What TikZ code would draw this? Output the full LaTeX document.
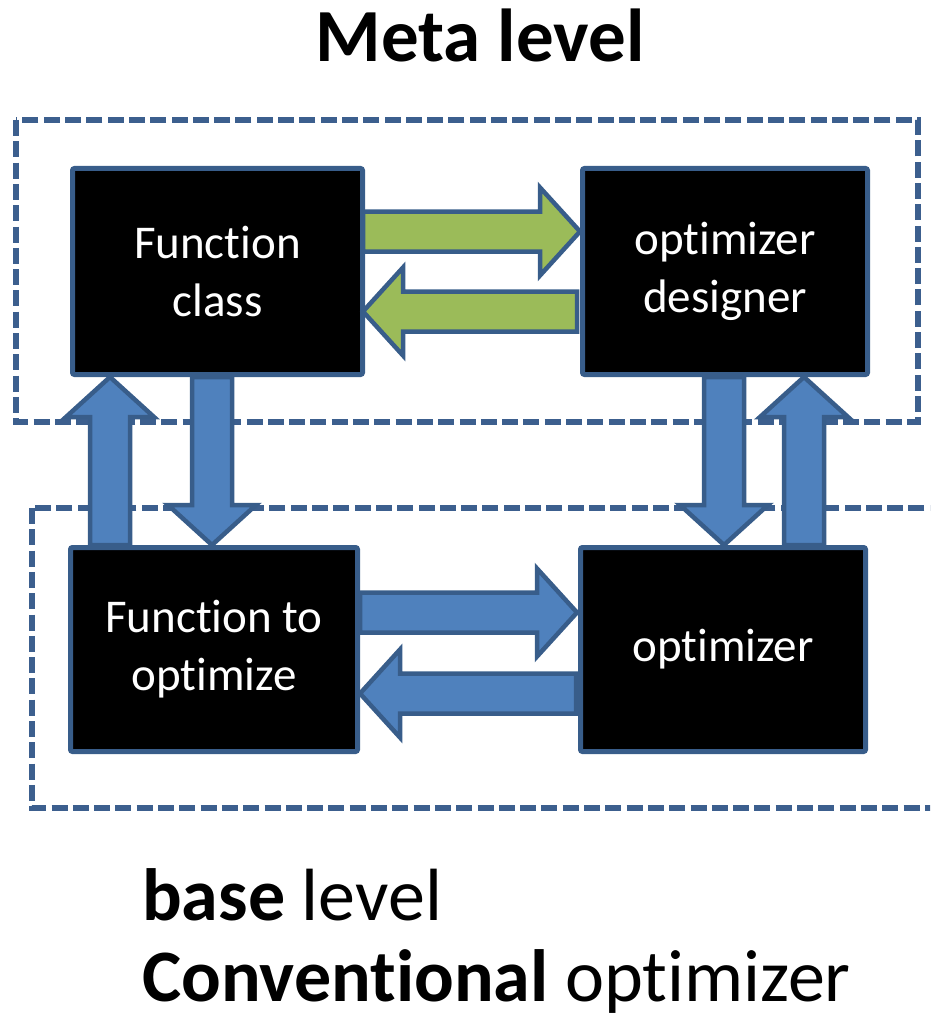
\documentclass[tikz,border=0pt]{standalone}
\usepackage{fontspec}
\setmainfont{Carlito}[Ligatures={NoCommon}]
\usetikzlibrary{calc}
\definecolor{edge}{HTML}{385D8A}
\definecolor{frameblue}{HTML}{3C5F8E}
\definecolor{bluefill}{HTML}{4F81BD}
\definecolor{greenfill}{HTML}{9BBB59}
\tikzset{
  blockbox/.style={draw=edge, line width=5pt, fill=black, rounded corners=2pt,
    text=white, font=\fontsize{47}{58}\selectfont, align=center, inner sep=0pt},
  levelframe/.style={draw=frameblue, line width=5.5pt, dash pattern=on 16pt off 5.3pt},
  bluearrow/.style={draw=edge, line width=4.5pt, fill=bluefill, line join=miter},
  greenarrow/.style={draw=edge, line width=4.5pt, fill=greenfill, line join=miter},
  titletext/.style={font=\fontsize{74}{88}\selectfont},
}
\newcommand\fatarrow[3]{%
  \path #2 coordinate (fa-s) #3 coordinate (fa-e);
  \coordinate (fa-h) at ($(fa-e)!40pt!(fa-s)$);
  \draw[#1] ($(fa-s)!20pt!90:(fa-e)$) -- ($(fa-h)!20pt!90:(fa-e)$) --
    ($(fa-h)!44pt!90:(fa-e)$) -- (fa-e) -- ($(fa-h)!44pt!-90:(fa-e)$) --
    ($(fa-h)!20pt!-90:(fa-e)$) -- ($(fa-s)!20pt!-90:(fa-e)$) -- cycle;
}
\begin{document}
\begin{tikzpicture}[x=1pt,y=-1pt]
  \clip (0,0) rectangle (930,1019);
  % level frames
  \draw[levelframe] (16,120) rectangle (918,422);
  \draw[levelframe] (32,508) rectangle (945,808);
  % blocks
  \node[blockbox, minimum width=290pt, minimum height=206pt] (fc) at (217.5,271.5) {Function\\class};
  \node[blockbox, minimum width=285pt, minimum height=206pt] (od) at (725,271.5) {optimizer\\designer};
  \node[blockbox, minimum width=287pt, minimum height=204pt] (fto) at (214,649.5) {Function to\\optimize};
  \node[blockbox, minimum width=285pt, minimum height=204pt] (opt) at (723,649.5) {optimizer};
  % green arrows (meta level)
  \fatarrow{greenarrow}{($(fc.east)+(-2,-40)$)}{($(od.west)+(0,-40)$)}
  \fatarrow{greenarrow}{($(od.west)+(-3,40)$)}{($(fc.east)+(-2,40)$)}
  % blue arrows (base level)
  \fatarrow{bluearrow}{($(fto.east)+(0,-37)$)}{($(opt.west)+(-1,-37)$)}
  \fatarrow{bluearrow}{($(opt.west)+(-2,44)$)}{($(fto.east)+(0,44)$)}
  % vertical arrows left
  \coordinate (lu) at ($(fc.south west)+(40,0)$);
  \coordinate (ld) at ($(fc.south west)+(142,0)$);
  \fatarrow{bluearrow}{(lu |- fto.north)}{(lu)}
  \fatarrow{bluearrow}{(ld)}{(ld |- fto.north)}
  % vertical arrows right
  \coordinate (rd) at ($(od.south west)+(144,0)$);
  \coordinate (ru) at ($(od.south west)+(224,0)$);
  \fatarrow{bluearrow}{(rd)}{(rd |- opt.north)}
  \fatarrow{bluearrow}{(ru |- opt.north)}{(ru)}
  % titles
  \node[titletext, font=\fontsize{75}{88}\selectfont\bfseries, anchor=base, inner sep=0pt] (meta) at (480,62) {Meta level};
  \node[titletext, anchor=base west, inner sep=0pt] (base) at (142,920) {\textbf{base} level};
  \node[titletext, anchor=base west, inner sep=0pt] (conv) at (142,1001) {\textbf{Conventional} optimizer};
\end{tikzpicture}
\end{document}
